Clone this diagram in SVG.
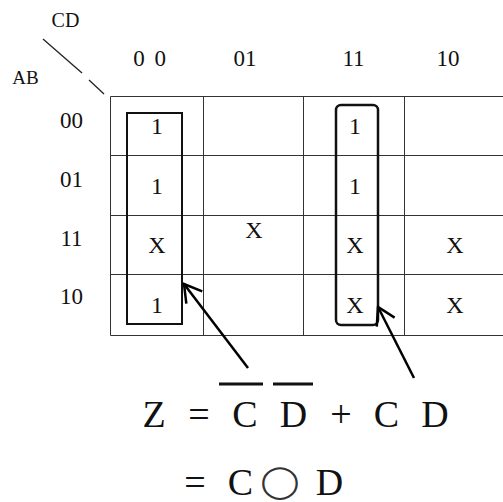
<svg xmlns="http://www.w3.org/2000/svg" width="503" height="502" viewBox="0 0 503 502">
  <style>
    .t { font-family: "Liberation Serif", "Times New Roman", serif; fill: #111; text-anchor: middle; }
    .hdr { font-size: 23px; }
    .cell { font-size: 24px; }
    .eq { font-size: 38px; }
    .grid line { stroke: #333; stroke-width: 1; }
    .grp { fill: none; stroke: #111; stroke-width: 2; }
    .arr { stroke: #000; stroke-width: 2.5; fill: none; marker-end: url(#open); }
  </style>
  <defs>
    <marker id="open" viewBox="-20 -12 22 24" markerWidth="22" markerHeight="24" refX="0" refY="0" markerUnits="userSpaceOnUse" orient="auto">
      <path d="M-17,-10 L0,0 L-17,10" fill="none" stroke="#000" stroke-width="2.5"/>
    </marker>
  </defs>
  <rect width="503" height="502" fill="#fff"/>

  <g id="axis-labels">
    <text class="t" x="65.5" y="27" style="font-size:20px">CD</text>
    <text class="t" x="25.5" y="84" style="font-size:19px">AB</text>
    <line x1="43" y1="39" x2="82" y2="73" stroke="#222" stroke-width="1.3"/>
    <line x1="89" y1="80" x2="104" y2="94" stroke="#222" stroke-width="1.3"/>
  </g>

  <g id="col-headers" class="t hdr">
    <text x="149.5" y="66" word-spacing="4">0 0</text>
    <text x="245" y="66">01</text>
    <text x="353.5" y="66">11</text>
    <text x="448" y="66">10</text>
  </g>

  <g id="row-headers" class="t hdr">
    <text x="71.5" y="128">00</text>
    <text x="71.5" y="187">01</text>
    <text x="71.5" y="246">11</text>
    <text x="71.5" y="304">10</text>
  </g>

  <g id="grid" class="grid">
    <line x1="110.5" y1="96.5" x2="503" y2="96.5"/>
    <line x1="110.5" y1="155.5" x2="503" y2="155.5"/>
    <line x1="110.5" y1="215.5" x2="503" y2="215.5"/>
    <line x1="110.5" y1="274.5" x2="503" y2="274.5"/>
    <line x1="110.5" y1="335.5" x2="503" y2="335.5"/>
    <line x1="110.5" y1="96.5" x2="110.5" y2="335.5"/>
    <line x1="203.5" y1="96.5" x2="203.5" y2="335.5"/>
    <line x1="303.5" y1="96.5" x2="303.5" y2="335.5"/>
    <line x1="404.5" y1="96.5" x2="404.5" y2="335.5"/>
  </g>

  <g id="cells" class="t cell">
    <text x="157" y="134">1</text>
    <text x="157" y="194">1</text>
    <text x="157" y="253">X</text>
    <text x="157" y="313">1</text>
    <text x="254" y="238">X</text>
    <text x="355" y="134">1</text>
    <text x="355" y="194">1</text>
    <text x="355" y="253">X</text>
    <text x="355" y="313">X</text>
    <text x="455" y="253">X</text>
    <text x="455" y="313">X</text>
  </g>

  <g id="group-cd-bar">
    <rect class="grp" x="127" y="113" width="55" height="211"/>
  </g>
  <g id="group-cd">
    <rect class="grp" x="336" y="105" width="42" height="220" rx="5" style="stroke-width:2.5"/>
  </g>

  <g id="connectors">
    <line class="arr" x1="248" y1="368" x2="184" y2="284"/>
    <line class="arr" x1="414" y1="378" x2="378" y2="307"/>
  </g>

  <g id="equation" class="t eq">
    <text x="154" y="427">Z</text>
    <text x="199" y="427">=</text>
    <text x="245" y="427">C</text>
    <text x="293.5" y="427">D</text>
    <text x="341" y="427">+</text>
    <text x="386.5" y="427">C</text>
    <text x="435" y="427">D</text>
    <line x1="219" y1="384" x2="263" y2="384" stroke="#111" stroke-width="3"/>
    <line x1="273" y1="384" x2="313" y2="384" stroke="#111" stroke-width="3"/>
    <text x="195" y="495">=</text>
    <text x="240.5" y="495">C</text>
    <text x="0" y="0" transform="translate(280,492) scale(1.1,1)" style="font-family:'DejaVu Sans',sans-serif;font-size:32px;fill:#333">◯</text>
    <text x="329.5" y="495">D</text>
  </g>
</svg>
